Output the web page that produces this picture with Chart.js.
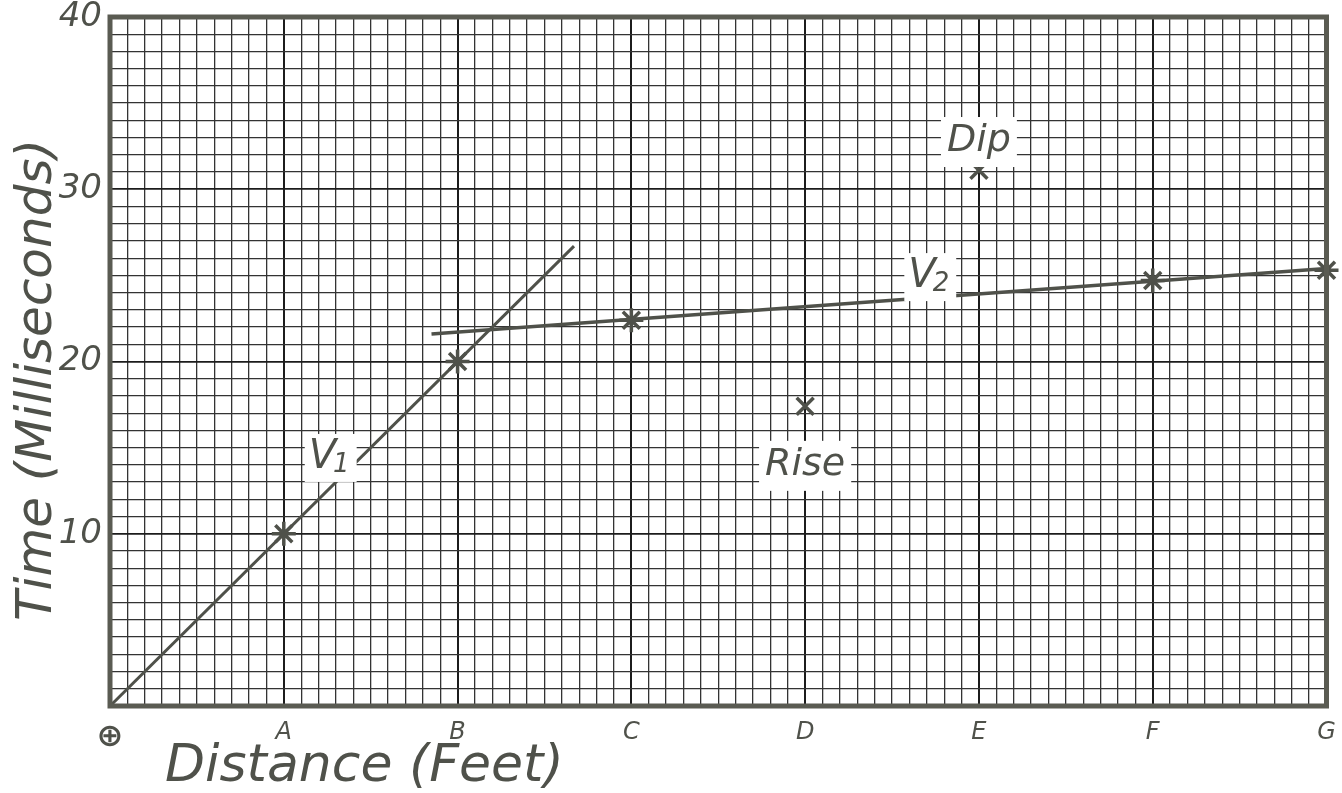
<!DOCTYPE html>
<html>
<head>
<meta charset="utf-8">
<script src="https://cdn.jsdelivr.net/npm/chart.js@4"></script>
<style>
html,body{margin:0;padding:0;background:#fff;}
#wrap{width:1342px;height:793px;position:relative;}
</style>
</head>
<body>
<div id="wrap"><canvas id="c"></canvas></div>
<script>
// ---- data ----
const xLetters = ['⊕','A','B','C','D','E','F','G'];
const yTickLabels = [10, 20, 30, 40];
const pointX = [1, 2, 3, 4, 5, 6, 7];
const pointY = [10, 20, 22.4, 17.4, 31.1, 24.7, 25.3];
const pointShapes = ['star','star','star','crossRot','crossRot','star','star'];
const v1X = [0, 2.67];
const v1Y = [0, 26.7];
const v2X = [1.85, 7];
const v2Y = [21.6, 25.4];
const noteText = ['Dip', 'Rise'];
const noteX = [5, 4];
const noteY = [32.8, 14.0];
const velText = ['V', 'V'];
const velSub = ['1', '2'];
const velX = [1.27, 4.72];
const velY = [14.4, 24.9];
const xTitle = 'Distance (Feet)';
const yTitle = 'Time (Milliseconds)';

const INK = '#4f514a';
const FONT = "'DejaVu Sans', sans-serif";

function isInt(v){ return Math.abs(v - Math.round(v)) < 1e-6; }

const frame = {
  id: 'frame',
  afterDatasetsDraw(chart) {
    const {ctx, chartArea: a, scales: {x, y}} = chart;
    ctx.save();
    ctx.textAlign = 'center';
    ctx.textBaseline = 'middle';
    ctx.font = 'italic 38px ' + FONT;
    noteText.forEach((t, i) => {
      const px = x.getPixelForValue(noteX[i]);
      const py = y.getPixelForValue(noteY[i]);
      const w = ctx.measureText(t).width + 12;
      ctx.fillStyle = '#fff';
      ctx.fillRect(px - w/2, py - 24, w, 50);
      ctx.fillStyle = INK;
      ctx.fillText(t, px, py);
    });
    velText.forEach((t, i) => {
      const px = x.getPixelForValue(velX[i]);
      const py = y.getPixelForValue(velY[i]);
      ctx.font = 'italic 40px ' + FONT;
      const w1 = ctx.measureText(t).width;
      ctx.font = 'italic 26px ' + FONT;
      const w2 = ctx.measureText(velSub[i]).width;
      ctx.fillStyle = '#fff';
      ctx.fillRect(px - (w1 + w2)/2 - 4, py - 24, w1 + w2 + 8, 48);
      ctx.fillStyle = INK;
      ctx.textAlign = 'left';
      ctx.font = 'italic 40px ' + FONT;
      ctx.fillText(t, px - (w1 + w2)/2, py);
      ctx.font = 'italic 26px ' + FONT;
      ctx.fillText(velSub[i], px - (w1 + w2)/2 + w1 - 3, py + 7);
      ctx.textAlign = 'center';
    });
    // thick frame
    ctx.strokeStyle = '#5a5b52';
    ctx.lineWidth = 5;
    ctx.strokeRect(a.left, a.top, a.right - a.left, a.bottom - a.top);
    // axis titles
    ctx.fillStyle = INK;
    ctx.font = 'italic 52px ' + FONT;
    ctx.textAlign = 'left';
    ctx.textBaseline = 'middle';
    ctx.fillText(xTitle, a.left + 55, 767);
    ctx.save();
    ctx.translate(38, 380);
    ctx.rotate(-Math.PI/2);
    ctx.textAlign = 'center';
    ctx.font = 'italic 50px ' + FONT;
    ctx.fillText(yTitle, 0, 0);
    ctx.restore();
    ctx.restore();
  }
};

new Chart(document.getElementById('c'), {
  type: 'scatter',
  data: {
    datasets: [
      { data: v1X.map((v, i) => ({x: v, y: v1Y[i]})), showLine: true, borderColor: INK, borderWidth: 3, pointRadius: 0 },
      { data: v2X.map((v, i) => ({x: v, y: v2Y[i]})), showLine: true, borderColor: INK, borderWidth: 3.5, pointRadius: 0 },
      { data: pointX.map((v, i) => ({x: v, y: pointY[i]})), showLine: false, borderColor: INK, backgroundColor: INK,
        pointStyle: pointShapes, pointRadius: 12, pointBorderWidth: 3.5, clip: false }
    ]
  },
  plugins: [frame],
  options: {
    responsive: true,
    maintainAspectRatio: false,
    animation: false,
    layout: { padding: { top: 17, right: 12, left: 0, bottom: 0 } },
    plugins: { legend: { display: false }, tooltip: { enabled: false } },
    scales: {
      x: {
        type: 'linear', min: 0, max: 7,
        afterFit(s){ s.height = 87; s.paddingLeft = 0; s.paddingRight = 0; },
        border: { display: false },
        grid: {
          drawTicks: false,
          color: c => isInt(c.tick.value) ? '#1c1c1c' : '#333',
          lineWidth: c => isInt(c.tick.value) ? 2 : 1.3
        },
        ticks: {
          stepSize: 0.1, maxTicksLimit: 1000, autoSkip: false, maxRotation: 0,
          padding: 12, color: INK,
          font: c => ({ family: FONT, size: (c.tick && c.tick.value === 0) ? 32 : 24, style: 'italic', weight: (c.tick && c.tick.value === 0) ? 'bold' : 'normal' }),
          callback: v => isInt(v) ? xLetters[Math.round(v)] : ''
        }
      },
      y: {
        type: 'linear', min: 0, max: 40,
        afterFit(s){ s.width = 110; s.paddingTop = 0; s.paddingBottom = 0; },
        border: { display: false },
        grid: {
          drawTicks: false,
          color: c => (isInt(c.tick.value / 10)) ? '#1c1c1c' : '#333',
          lineWidth: c => (isInt(c.tick.value / 10)) ? 1.8 : 1.3
        },
        ticks: {
          stepSize: 1, maxTicksLimit: 1000, autoSkip: false,
          padding: 8, color: INK,
          font: { family: FONT, size: 34, style: 'italic' },
          callback: v => yTickLabels.includes(v) ? String(v) : ''
        }
      }
    }
  }
});
</script>
</body>
</html>
